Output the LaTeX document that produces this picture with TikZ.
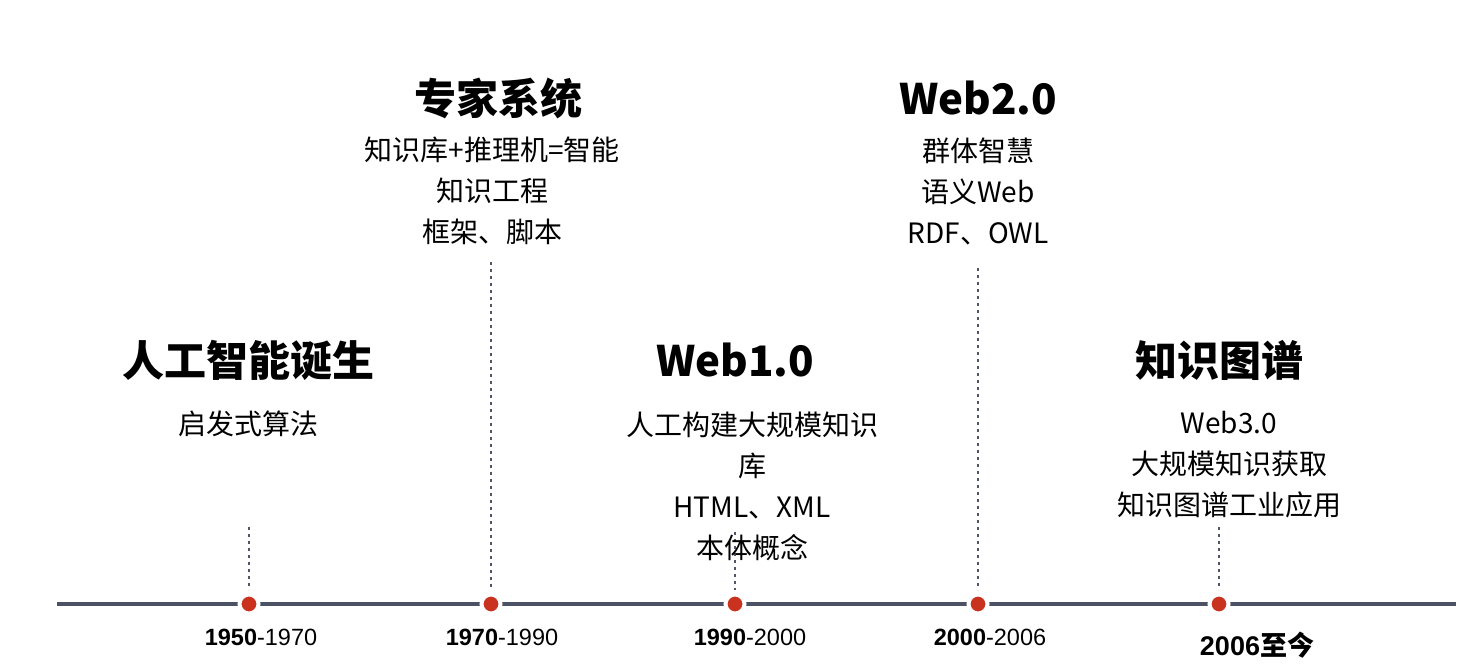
\documentclass[tikz,border=0pt]{standalone}
\usepackage{fontspec}
\setmainfont{Noto Sans CJK SC}
\newfontfamily\yearfont{Liberation Sans}
\usetikzlibrary{positioning}
\definecolor{axisgray}{HTML}{4B5263}
\definecolor{dotred}{HTML}{C9321F}
\definecolor{guidegray}{HTML}{50566A}

\begin{document}
\begin{tikzpicture}[x=1pt,y=-1pt,
  title/.style={font=\fontsize{42}{50}\selectfont\bfseries,inner sep=0pt},
  body/.style={font=\fontsize{28}{41}\selectfont,align=center,inner sep=0pt},
  year/.style={font=\yearfont\fontsize{23.5}{28}\selectfont,text=black,inner sep=0pt},
  dot/.style={circle,fill=dotred,draw=white,line width=4pt,inner sep=0pt,minimum size=19pt},
  guide/.style={guidegray,line width=2.8pt,dash pattern=on 2.8pt off 4.2pt}]
\useasboundingbox (0,0) rectangle (1483,666);

% timeline axis
\draw[axisgray,line width=4pt] (57,604) -- (1456,604);

% guides from the texts down to the axis
\coordinate (g1) at (249,527);
\coordinate (g2) at (491,262);
\coordinate (g3) at (735,532);
\coordinate (g4) at (978,268);
\coordinate (g5) at (1219,527);
\foreach \i/\x in {1/249,2/491,3/735,4/978,5/1219}
  \draw[guide] (g\i) -- (\x,590);

% dots on the axis
\node[dot] (d1) at (249,604) {};
\node[dot] (d2) at (491,604) {};
\node[dot] (d3) at (735,604) {};
\node[dot] (d4) at (978,604) {};
\node[dot] (d5) at (1219,604) {};

% periods
\node[year] (y1) at (261,637) {\bfseries 1950\mdseries-1970};
\node[year] (y2) at (502,637) {\bfseries 1970\mdseries-1990};
\node[year] (y3) at (750,637) {\bfseries 1990\mdseries-2000};
\node[year] (y4) at (990,637) {\bfseries 2000\mdseries-2006};
\node[year,font=\fontsize{27}{32}\selectfont\bfseries] (y5) at (1257,645) {{\yearfont 2006}至今};

% stages
\node[title] (s1) at (248,360) {人工智能诞生};
\node[body]  (b1) at (248,424) {启发式算法};

\node[title] (s2) at (498,98) {专家系统};
\node[body]  (b2) at (492,191) {知识库+推理机=智能\\知识工程\\框架、脚本};

\node[title] (s3) at (735,360) {Web1.0};
\node[body]  (b3) at (752,486) {人工构建大规模知识\\库\\HTML、XML\\本体概念};

\node[title] (s4) at (978,98) {Web2.0};
\node[body]  (b4) at (978,191) {群体智慧\\语义Web\\RDF、OWL};

\node[title] (s5) at (1219,360) {知识图谱};
\node[body]  (b5) at (1229,465) {Web3.0\\大规模知识获取\\知识图谱工业应用};
\end{tikzpicture}
\end{document}
